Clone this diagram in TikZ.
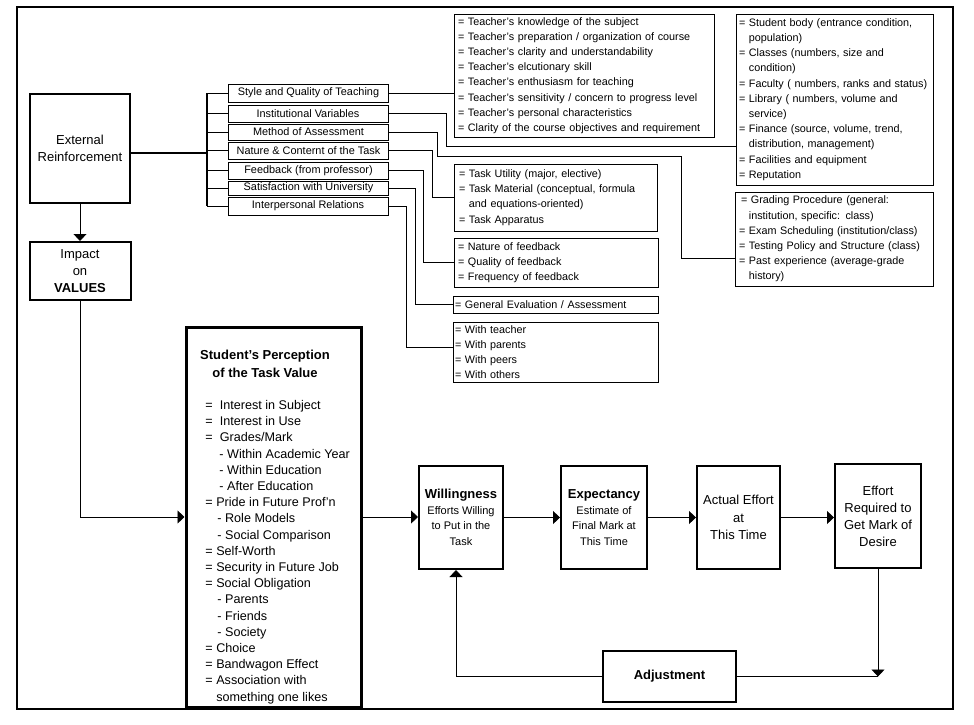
\documentclass[tikz,border=0pt]{standalone}
\usepackage{fontspec}
\setmainfont{Liberation Sans}
\usetikzlibrary{arrows.meta}

\begin{document}
\begin{tikzpicture}[x=1pt, y=-1pt, line width=0.9pt, >={Triangle[width=13pt,length=7pt]},
    factor/.style={draw, minimum width=160pt, inner sep=0pt, font=\fontsize{10.9}{13}\selectfont},
    listbox/.style={draw, align=left, inner xsep=4pt, inner ysep=0pt, font=\fontsize{10.8}{15.2}\selectfont},
    mainbox/.style={draw, line width=2pt, align=center, inner sep=0pt, font=\fontsize{13}{17}\selectfont},
    stagebox/.style={draw, line width=2pt, align=center, inner sep=0pt, minimum height=103pt, font=\fontsize{11}{15.5}\selectfont},
    heavy/.style={line width=2pt}]

    \useasboundingbox (0,0) rectangle (974,724);
    % Frame
    \draw[line width=2.5pt] (17,7) rectangle (953,709);

    % Left column
    \node[mainbox, minimum width=100pt, minimum height=109pt] (ext) at (80,148.5) {External\\Reinforcement};
    \node[mainbox, minimum width=101pt, minimum height=58pt] (impact) at (80,271) {Impact\\on\\\textbf{VALUES}};

    % Factors of external reinforcement
    \node[factor, minimum height=18pt] (teaching) at (308.5,93) {Style and Quality of Teaching};
    \node[factor, minimum height=17pt] (instv) at (308,113.5) {Institutional Variables};
    \node[factor, minimum height=16pt] (meth) at (308.5,132) {Method of Assessment};
    \node[factor, minimum height=17pt] (nat) at (308.5,150.5) {Nature \& Conternt of the Task};
    \node[factor, minimum height=17pt] (fdbk) at (308.5,170.5) {Feedback (from professor)};
    \node[factor, minimum height=14pt] (sat) at (308.5,188) {Satisfaction with University};
    \node[factor, minimum height=18pt] (ipr) at (308,206) {Interpersonal Relations};

    % Bus from External Reinforcement to the factors
    \coordinate (bus) at (207,0);
    \coordinate (extout) at ([yshift=-4.5pt]ext.east);
    \draw[heavy] (extout) -- (extout -| bus);
    \draw[heavy] (bus |- teaching.west) -- (bus |- ipr.west);
    \foreach \f in {teaching, instv, meth, nat, fdbk, sat, ipr}
        \draw (bus |- \f.west) -- (\f.west);

    % Detail lists
    \node[listbox, text width=252pt, minimum height=123pt] (teach) at (584,75.5) {= Teacher's knowledge of the subject\\
        = Teacher's preparation / organization of course\\
        = Teacher's clarity and understandability\\
        = Teacher's elcutionary skill\\
        = Teacher's enthusiasm for teaching\\
        = Teacher's sensitivity / concern to progress level\\
        = Teacher's personal characteristics\\
        = Clarity of the course objectives and requirement};
    \node[listbox, inner xsep=3pt, text width=191pt, minimum height=171pt] (inst) at (834.5,99.5) {= Student body (entrance condition,\\
        \phantom{=} population)\\
        = Classes (numbers, size and\\
        \phantom{=} condition)\\
        = Faculty ( numbers, ranks and status)\\
        = Library ( numbers, volume and\\
        \phantom{=} service)\\
        = Finance (source, volume, trend,\\
        \phantom{=} distribution, management)\\
        = Facilities and equipment\\
        = Reputation};
    \node[listbox, text width=190pt, minimum height=94pt] (grade) at (834,239) {\hspace*{2pt}= Grading Procedure (general:\\
        \phantom{=} institution, specific: class)\\
        = Exam Scheduling (institution/class)\\
        = Testing Policy and Structure (class)\\
        = Past experience (average-grade\\
        \phantom{=} history)};
    \node[listbox, inner xsep=5pt, text width=193pt, minimum height=67pt] (task) at (555.5,197.5) {= Task Utility (major, elective)\\
        = Task Material (conceptual, formula\\
        \phantom{=} and equations-oriented)\\
        = Task Apparatus};
    \node[listbox, text width=196pt, minimum height=49pt] (fbk) at (556,262.5) {= Nature of feedback\\
        = Quality of feedback\\
        = Frequency of feedback};
    \node[listbox, inner xsep=2pt, text width=201pt, minimum height=17pt] (geval) at (555.5,304.5) {= General Evaluation / Assessment};
    \node[listbox, inner xsep=2pt, text width=201pt, minimum height=60pt] (rel) at (555.5,352) {= With teacher\\
        = With parents\\
        = With peers\\
        = With others};

    % Factor to list connectors
    \draw (teaching.east) -- (teach.west |- teaching.east);
    \draw (instv.east) -- ++(58,0) |- ([yshift=-46.5pt]inst.west);
    \draw (meth.east) -- ++(48,0) -- ++(0,24) -- ++(244,0) |- ([yshift=-19pt]grade.west);
    \draw (nat.east) -- ++(43,0) |- (task.west);
    \draw (fdbk.east) -- ++(34,0) |- (fbk.west);
    \draw (sat.east) -- ++(26,0) |- (geval.west);
    \draw (ipr.east) -- ++(18,0) |- ([yshift=5pt]rel.west);

    % Perception of the task value
    \node[mainbox, line width=3pt, minimum width=175pt, minimum height=380pt] (percep) at (273.5,517) {};
    \node[anchor=north, align=center, font=\fontsize{13}{18}\selectfont\bfseries] (percephead) at (265,346) {Student's Perception\\of the Task Value};
    \node[anchor=north west, align=left, inner sep=0pt, font=\fontsize{12.6}{16.2}\selectfont] (perceplist) at (205,400) {=\ \ Interest in Subject\\
        =\ \ Interest in Use\\
        =\ \ Grades/Mark\\
        \hspace*{14pt}- Within Academic Year\\
        \hspace*{14pt}- Within Education\\
        \hspace*{14pt}- After Education\\
        = Pride in Future Prof'n\\
        \hspace*{12pt}- Role Models\\
        \hspace*{12pt}- Social Comparison\\
        = Self-Worth\\
        = Security in Future Job\\
        = Social Obligation\\
        \hspace*{12pt}- Parents\\
        \hspace*{12pt}- Friends\\
        \hspace*{12pt}- Society\\
        = Choice\\
        = Bandwagon Effect\\
        = Association with\\
        \phantom{=} something one likes};

    % Stages
    \node[stagebox, minimum width=84pt] (will) at (461,517.5) {{\fontsize{13}{15.5}\selectfont\bfseries Willingness}\\Efforts Willing\\to Put in the\\Task};
    \node[stagebox, minimum width=86pt] (expect) at (604,517.5) {{\fontsize{13}{15.5}\selectfont\bfseries Expectancy}\\Estimate of\\Final Mark at\\This Time};
    \node[stagebox, minimum width=83pt, font=\fontsize{13}{17.5}\selectfont] (actual) at (738.5,517.5) {Actual Effort\\at\\This Time};
    \node[stagebox, minimum width=86pt, minimum height=104pt, font=\fontsize{13}{17}\selectfont] (effort) at (878,516) {Effort\\Required to\\Get Mark of\\Desire};
    \node[mainbox, minimum width=133pt, minimum height=51pt, font=\fontsize{13}{15}\selectfont\bfseries] (adj) at (669.5,676.5) {Adjustment};

    % Flow
    \draw[->] (ext.south) -- (impact.north);
    \draw[->] (impact.south) |- (percep.west);
    \draw[->] (percep.east) -- (will.west |- percep.east);
    \draw[->] (will.east) -- (expect.west);
    \draw[->] (expect.east) -- (actual.west);
    \draw[->] (actual.east) -- (effort.west |- actual.east);
    \draw[->] (effort.south) -- (effort.south |- adj.east); % down to adjustment line
    \draw (adj.east) -- (effort.south |- adj.east);
    \draw[->] (adj.west) -| ([xshift=-5pt]will.south); % feedback loop

\end{tikzpicture}
\end{document}
